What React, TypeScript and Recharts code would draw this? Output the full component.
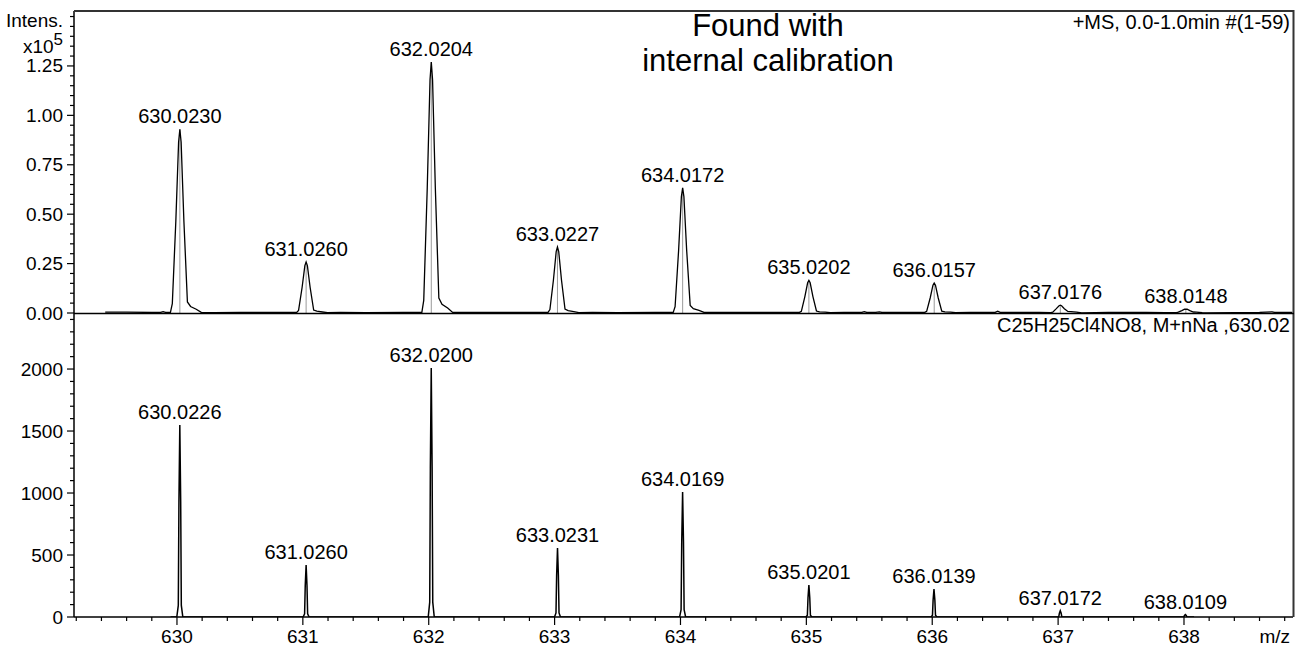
import React from 'react';
import { ComposedChart, Line, XAxis, YAxis, Scatter } from 'recharts';

const FONT = '"Liberation Sans", Arial, Helvetica, sans-serif';

// ---------- axes ----------
const X_DOMAIN: [number, number] = [629.182, 638.866];
const xMajorTicks = [630, 631, 632, 633, 634, 635, 636, 637, 638];
const xMinorStep = 0.2;
const xTicks: number[] = [];
for (let i = 0; i <= 48; i++) xTicks.push(Math.round((629.2 + i * xMinorStep) * 10) / 10);

const TOP_DOMAIN: [number, number] = [0, 1.528];
const topYMajor = [0, 0.25, 0.5, 0.75, 1.0, 1.25];
const topYTicks: number[] = [];
for (let i = 0; i <= 30; i++) topYTicks.push(Math.round(i * 5) / 100);

const BOTTOM_DOMAIN: [number, number] = [0, 2452];
const bottomYMajor = [0, 500, 1000, 1500, 2000];
const bottomYTicks: number[] = [];
for (let i = 0; i <= 24; i++) bottomYTicks.push(i * 100);

// ---------- measured spectrum (x10^5 intensity) ----------
const foundMz = [630.023, 631.026, 632.0204, 633.0227, 634.0172, 635.0202, 636.0157, 637.0176, 638.0148];
const foundIntensity = [0.93, 0.258, 1.27, 0.334, 0.633, 0.165, 0.152, 0.04, 0.02];
const foundLabels = ['630.0230', '631.0260', '632.0204', '633.0227', '634.0172', '635.0202', '636.0157', '637.0176', '638.0148'];

const foundProfile: [number, number][] = [
  [629.43, 0.004], [629.6, 0.004], [629.8, 0.003], [629.87, 0.003], [629.89, 0.007], [629.91, 0.003],
  [629.948, 0.003], [629.963, 0.047], [629.991, 0.465], [630.013, 0.865], [630.023, 0.93], [630.033, 0.865],
  [630.055, 0.465], [630.083, 0.056], [630.108, 0.033], [630.153, 0.019], [630.193, 0.003],
  [630.3, 0.002], [630.5, 0.003], [630.8, 0.003], [630.9, 0.003],
  [630.951, 0.003], [630.966, 0.013], [630.994, 0.129], [631.016, 0.24], [631.026, 0.258], [631.036, 0.24],
  [631.058, 0.129], [631.086, 0.015], [631.111, 0.009], [631.156, 0.005], [631.196, 0.002],
  [631.3, 0.003], [631.5, 0.002], [631.8, 0.003],
  [631.9454, 0.003], [631.9604, 0.064], [631.9884, 0.635], [632.0104, 1.181], [632.0204, 1.27], [632.0304, 1.181],
  [632.0524, 0.635], [632.0804, 0.076], [632.1054, 0.044], [632.1504, 0.025], [632.1904, 0.003],
  [632.3, 0.003], [632.6, 0.003], [632.85, 0.003],
  [632.9477, 0.003], [632.9627, 0.017], [632.9907, 0.167], [633.0127, 0.311], [633.0227, 0.334], [633.0327, 0.311],
  [633.0547, 0.167], [633.0827, 0.02], [633.1077, 0.012], [633.1527, 0.007], [633.1927, 0.002],
  [633.3, 0.003], [633.5, 0.002], [633.8, 0.003],
  [633.9422, 0.003], [633.9572, 0.032], [633.9852, 0.317], [634.0072, 0.589], [634.0172, 0.633], [634.0272, 0.589],
  [634.0492, 0.317], [634.0772, 0.038], [634.1022, 0.022], [634.1472, 0.013], [634.1872, 0.003],
  [634.3, 0.003], [634.5, 0.003], [634.85, 0.003],
  [634.9452, 0.003], [634.9602, 0.008], [634.9882, 0.083], [635.0102, 0.153], [635.0202, 0.165], [635.0302, 0.153],
  [635.0522, 0.083], [635.0802, 0.01], [635.1052, 0.006], [635.1502, 0.004], [635.1902, 0.002],
  [635.3, 0.003], [635.44, 0.003], [635.46, 0.007], [635.48, 0.003], [635.55, 0.003], [635.58, 0.006], [635.6, 0.003], [635.85, 0.003],
  [635.9407, 0.003], [635.9557, 0.008], [635.9837, 0.076], [636.0057, 0.141], [636.0157, 0.152], [636.0257, 0.141],
  [636.0477, 0.076], [636.0757, 0.009], [636.1007, 0.006], [636.1457, 0.004], [636.1857, 0.002],
  [636.3, 0.003], [636.5, 0.003], [636.52, 0.009], [636.54, 0.003], [636.85, 0.003],
  [636.9426, 0.002], [636.9576, 0.004], [636.9856, 0.022], [637.0076, 0.037], [637.0176, 0.04], [637.0276, 0.037],
  [637.0496, 0.022], [637.0776, 0.008], [637.1026, 0.007], [637.1476, 0.004], [637.1876, 0.001],
  [637.4, 0.003], [637.7, 0.003], [637.85, 0.002],
  [637.9398, 0.002], [637.9548, 0.004], [637.9828, 0.012], [638.0048, 0.019], [638.0148, 0.02], [638.0248, 0.019],
  [638.0468, 0.012], [638.0748, 0.005], [638.0998, 0.004], [638.1448, 0.002], [638.1848, 0.001],
  [638.4, 0.002], [638.6, 0.003], [638.7, 0.006], [638.72, 0.003], [638.86, 0.003],
];

// ---------- simulated isotope pattern ----------
const simMz = [630.0226, 631.026, 632.02, 633.0231, 634.0169, 635.0201, 636.0139, 637.0172, 638.0109];
const simIntensity = [1548, 419, 2008, 556, 1008, 258, 226, 50, 20];
const simLabels = ['630.0226', '631.0260', '632.0200', '633.0231', '634.0169', '635.0201', '636.0139', '637.0172', '638.0109'];

const simProfile: [number, number][] = [
  [629.95, 0],
  [629.9986, 0], [630.0106, 93], [630.0156, 929], [630.0226, 1548], [630.0296, 929], [630.0346, 93], [630.0466, 0],
  [631.002, 0], [631.014, 25], [631.019, 251], [631.026, 419], [631.033, 251], [631.038, 25], [631.05, 0],
  [631.996, 0], [632.008, 120], [632.013, 1205], [632.02, 2008], [632.027, 1205], [632.032, 120], [632.044, 0],
  [632.9991, 0], [633.0111, 33], [633.0161, 334], [633.0231, 556], [633.0301, 334], [633.0351, 33], [633.0471, 0],
  [633.9929, 0], [634.0049, 60], [634.0099, 605], [634.0169, 1008], [634.0239, 605], [634.0289, 60], [634.0409, 0],
  [634.9961, 0], [635.0081, 15], [635.0131, 155], [635.0201, 258], [635.0271, 155], [635.0321, 15], [635.0441, 0],
  [635.9899, 0], [636.0019, 14], [636.0069, 136], [636.0139, 226], [636.0209, 136], [636.0259, 14], [636.0379, 0],
  [636.9932, 0], [637.0052, 3], [637.0102, 30], [637.0172, 50], [637.0242, 30], [637.0292, 3], [637.0412, 0],
  [637.9869, 0], [637.9989, 1], [638.0039, 12], [638.0109, 20], [638.0179, 12], [638.0229, 1], [638.0349, 0],
  [638.08, 0],
];

// ---------- derived tables ----------
const toXY = (arr: [number, number][]) => arr.map(([x, y]) => ({ x, y }));
const foundData = toXY(foundProfile);
const simData = toXY(simProfile);
const foundSticks = foundMz.flatMap((m, i) => [
  { x: m, y: 0 },
  { x: m, y: foundIntensity[i] },
  { x: m, y: null as number | null },
]);
const foundPeakLabels = foundMz.map((m, i) => ({ x: m, y: foundIntensity[i], label: foundLabels[i] }));
const simPeakLabels = simMz.map((m, i) => ({ x: m, y: simIntensity[i], label: simLabels[i] }));

// ---------- tick renderers ----------
const isIn = (arr: number[], v: number) => arr.some((a) => Math.abs(a - v) < 1e-6);

const makeYTick = (majors: number[], fmt: (v: number) => string) => (props: any) => {
  const { x, y, payload } = props;
  const v = payload.value as number;
  const major = isIn(majors, v);
  return (
    <g>
      <line x1={x - (major ? 7 : 4)} x2={x} y1={y} y2={y} stroke="#000" strokeWidth={1.2} />
      {major && (
        <text x={x - 11} y={y} dy={6.5} textAnchor="end" fontSize={19} fontFamily={FONT} fill="#000">
          {fmt(v)}
        </text>
      )}
    </g>
  );
};

const XTick = (props: any) => {
  const { x, y, payload } = props;
  const v = payload.value as number;
  const major = isIn(xMajorTicks, v);
  return (
    <g>
      <line x1={x} x2={x} y1={y} y2={y + (major ? 8 : 4)} stroke="#000" strokeWidth={1.2} />
      {major && (
        <text x={x} y={y + 26} textAnchor="middle" fontSize={19} fontFamily={FONT} fill="#000">
          {String(v)}
        </text>
      )}
    </g>
  );
};

const PeakLabel = (props: any) => {
  const { cx, cy, payload } = props;
  return (
    <text x={cx} y={cy - 6} textAnchor="middle" fontSize={20} fontFamily={FONT} fill="#000">
      {payload.label}
    </text>
  );
};

const topTick = makeYTick(topYMajor, (v) => v.toFixed(2));
const bottomTick = makeYTick(bottomYMajor, (v) => String(v));

export default function App() {
  return (
    <div style={{ position: 'absolute', left: 0, top: 0, width: 1295, height: 648, background: '#fff', overflow: 'hidden' }}>
      <div style={{ position: 'absolute', left: 0, top: 313 }}>
        <ComposedChart width={1295} height={335} margin={{ top: 0, right: 2, bottom: 0, left: 0 }}>
          <XAxis
            dataKey="x"
            type="number"
            domain={X_DOMAIN}
            allowDataOverflow
            ticks={xTicks}
            interval={0}
            height={31}
            tickSize={0}
            tickMargin={0}
            tickLine={false}
            axisLine={{ stroke: '#000', strokeWidth: 1.5 }}
            tick={XTick}
          />
          <YAxis
            type="number"
            domain={BOTTOM_DOMAIN}
            allowDataOverflow
            ticks={bottomYTicks}
            interval={0}
            width={74}
            tickSize={0}
            tickMargin={0}
            tickLine={false}
            axisLine={{ stroke: '#000', strokeWidth: 1.5 }}
            tick={bottomTick}
          />
          <Line data={simData} dataKey="y" type="linear" stroke="#000" strokeWidth={1.5} dot={false} isAnimationActive={false} />
          <Scatter data={simPeakLabels} dataKey="y" shape={PeakLabel} isAnimationActive={false} />
        </ComposedChart>
      </div>
      <div style={{ position: 'absolute', left: 0, top: 0 }}>
        <ComposedChart width={1295} height={330} margin={{ top: 11, right: 2, bottom: 17, left: 0 }}>
          <XAxis dataKey="x" type="number" domain={X_DOMAIN} allowDataOverflow hide />
          <YAxis
            type="number"
            domain={TOP_DOMAIN}
            allowDataOverflow
            ticks={topYTicks}
            interval={0}
            width={74}
            tickSize={0}
            tickMargin={0}
            tickLine={false}
            axisLine={{ stroke: '#000', strokeWidth: 1.5 }}
            tick={topTick}
          />
          <Line data={foundSticks} dataKey="y" type="linear" stroke="#9a9a9a" strokeWidth={1} dot={false} isAnimationActive={false} connectNulls={false} />
          <Line data={foundData} dataKey="y" type="linear" stroke="#000" strokeWidth={1.3} dot={false} isAnimationActive={false} />
          <Scatter data={foundPeakLabels} dataKey="y" shape={PeakLabel} isAnimationActive={false} />
        </ComposedChart>
      </div>
      <svg width={1295} height={648} style={{ position: 'absolute', left: 0, top: 0, pointerEvents: 'none' }}>
        <line x1={74} x2={1294} y1={11} y2={11} stroke="#333" strokeWidth={2} />
        <line x1={1293.5} x2={1293.5} y1={10} y2={617} stroke="#333" strokeWidth={2} />
        <line x1={74} x2={1294} y1={313.5} y2={313.5} stroke="#000" strokeWidth={1.6} />
        <text x={768} y={36} textAnchor="middle" fontSize={31} fontFamily={FONT} fill="#000">Found with</text>
        <text x={768} y={71} textAnchor="middle" fontSize={31} fontFamily={FONT} fill="#000">internal calibration</text>
        <text x={1290} y={29} textAnchor="end" fontSize={20} fontFamily={FONT} fill="#000">+MS, 0.0-1.0min #(1-59)</text>
        <text x={1290} y={332} textAnchor="end" fontSize={20} fontFamily={FONT} fill="#000">C25H25Cl4NO8, M+nNa ,630.02</text>
        <text x={63} y={27} textAnchor="end" fontSize={19} fontFamily={FONT} fill="#000">Intens.</text>
        <text x={63} y={53} textAnchor="end" fontSize={19} fontFamily={FONT} fill="#000">
          x10<tspan dy={-8} fontSize={17}>5</tspan>
        </text>
        <text x={1290} y={643} textAnchor="end" fontSize={19} fontFamily={FONT} fill="#000">m/z</text>
      </svg>
    </div>
  );
}
